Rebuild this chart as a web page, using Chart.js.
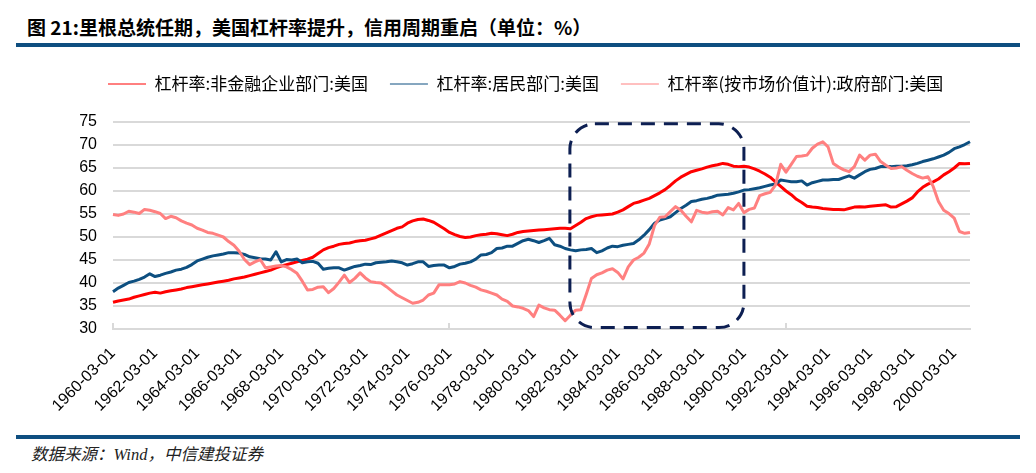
<!DOCTYPE html>
<html><head><meta charset="utf-8">
<script src="https://cdn.jsdelivr.net/npm/chart.js@4"></script>
<style>
html,body{margin:0;padding:0;background:#fff;}
body{width:1036px;height:473px;position:relative;overflow:hidden;font-family:"Noto Sans CJK SC",sans-serif;}
#title{position:absolute;left:27px;top:16px;font-size:19px;font-weight:700;line-height:21px;color:#000;white-space:nowrap;}
.bar{position:absolute;left:16px;width:1004px;background:#0e4e80;}
#bar1{top:43px;height:4px;}
#bar2{top:435px;height:4px;}
#foot{position:absolute;left:31px;top:445px;font-size:16.5px;font-style:italic;color:#222;line-height:19px;font-family:"Liberation Serif","Noto Sans CJK SC",serif;white-space:nowrap;}
#wrap{position:absolute;left:0;top:50px;width:1036px;height:385px;}
</style></head>
<body>
<div id="title">图 21:里根总统任期，美国杠杆率提升，信用周期重启（单位：%）</div>
<div class="bar" id="bar1"></div>
<div id="wrap"><canvas id="c" width="1036" height="385"></canvas></div>
<div class="bar" id="bar2"></div>
<div id="foot">数据来源：Wind，中信建投证券</div>
<script>
// ---- categories ----
const years = [];
for (let yv = 1960; yv <= 2000; yv++) years.push(yv);
const quarterMonths = ['03','06','09','12'];
const categories = [];
years.forEach(yr => quarterMonths.forEach(m => categories.push(yr + '-' + m + '-01')));

// ---- series (quarterly, 1960Q1 .. 2000Q4) ----
const seriesNames = ['杠杆率:非金融企业部门:美国','杠杆率:居民部门:美国','杠杆率(按市场价值计):政府部门:美国'];

const corporate = [
35.8,36.1,36.3,36.5, 36.9,37.2,37.5,37.8, 38.0,37.8,38.1,38.3, 38.5,38.7,39.0,39.2,
39.4,39.6,39.8,40.0, 40.2,40.4,40.6,40.9, 41.1,41.3,41.6,41.9, 42.2,42.5,42.8,43.3,
43.7,44.0,44.3,44.6, 44.9,45.2,45.6,46.4, 47.2,47.7,48.0,48.4, 48.6,48.7,49.0,49.2,
49.3,49.6,49.9,50.4, 50.9,51.4,51.9,52.2, 53.0,53.5,53.8,53.9, 53.6,53.2,52.5,51.8,
51.0,50.5,50.1,49.9, 50.0,50.3,50.5,50.6, 50.8,50.7,50.5,50.3, 50.6,51.0,51.2,51.3,
51.4,51.5,51.6,51.7, 51.8,51.9,51.9,51.8, 52.5,53.2,54.0,54.4, 54.7,54.8,54.9,55.0,
55.4,55.9,56.6,57.3, 57.6,58.0,58.4,59.0, 59.6,60.3,61.2,62.2, 63.0,63.6,64.2,64.5,
64.8,65.2,65.5,65.7, 66.0,65.8,65.4,65.3, 65.4,65.2,64.8,64.3, 63.7,63.0,62.0,61.0,
60.0,59.2,58.2,57.5, 56.7,56.5,56.4,56.2, 56.1,56.0,56.0,55.9, 56.2,56.5,56.6,56.5,
56.7,56.8,56.9,57.0, 56.5,56.6,57.2,57.8, 58.5,59.8,60.8,61.5, 62.0,62.6,63.5,64.2,
65.0,66.0,65.9,66.0];

const household = [
38.1,38.9,39.5,40.1, 40.4,40.8,41.3,42.0, 41.4,41.7,42.1,42.4, 42.8,43.0,43.4,44.0,
44.8,45.2,45.6,45.9, 46.1,46.3,46.6,46.6, 46.5,46.2,45.7,45.5, 45.3,45.2,45.0,46.8,
44.6,45.1,45.0,45.2, 44.4,44.6,44.7,44.3, 43.0,43.2,43.3,43.3, 42.8,43.2,43.6,43.8,
44.1,44.0,44.4,44.5, 44.6,44.8,44.6,44.4, 43.9,44.2,44.6,44.6, 43.6,43.8,43.9,43.9,
43.3,43.6,44.1,44.3, 44.6,45.2,46.1,46.2, 46.6,47.5,47.6,48.0, 48.0,48.6,49.2,49.5,
49.2,48.8,49.2,49.7, 48.3,48.0,47.5,47.2, 47.0,47.2,47.3,47.5, 46.6,47.0,47.6,48.0,
47.9,48.2,48.4,48.6, 49.4,50.4,51.6,53.0, 53.7,54.0,54.4,55.3, 56.2,56.9,57.7,57.9,
58.2,58.4,58.7,59.1, 59.2,59.3,59.5,59.8, 60.2,60.3,60.5,60.7, 61.0,61.3,61.5,62.4,
62.2,62.0,62.0,62.2, 61.3,61.8,62.1,62.4, 62.4,62.5,62.5,62.9, 63.3,62.8,63.5,64.2,
64.7,64.9,65.3,65.3, 65.3,65.4,65.4,65.5, 65.7,66.0,66.4,66.7, 67.0,67.4,67.8,68.4,
69.2,69.6,70.1,70.7];

const government = [
54.9,54.7,55.0,55.6, 55.4,55.1,56.0,55.8, 55.5,55.1,54.0,54.5, 54.2,53.5,53.0,52.6,
51.9,51.5,51.0,50.8, 50.4,50.0,49.0,48.2, 46.9,45.1,44.0,44.6, 45.1,43.3,43.5,43.7,
43.8,43.5,42.9,42.1, 40.4,38.5,38.6,39.1, 39.2,37.9,38.8,40.2, 41.7,40.1,41.0,42.2,
41.1,40.3,40.1,40.0, 39.2,38.3,37.4,36.8, 36.2,35.6,35.8,36.3, 37.4,37.8,39.6,39.6,
39.6,39.8,40.3,40.0, 39.5,39.1,38.5,38.2, 37.8,37.4,36.5,36.0, 35.0,34.8,34.5,34.0,
32.7,35.2,34.6,34.2, 34.1,33.0,31.8,33.0, 34.1,34.2,37.5,41.0, 41.8,42.2,42.8,43.1,
42.3,40.9,43.5,45.0, 45.6,46.5,48.5,52.5, 54.3,54.4,55.5,56.6, 55.8,54.5,53.3,55.8,
55.4,55.2,55.5,55.6, 54.8,56.4,55.9,57.3, 55.3,56.0,56.3,59.0, 59.4,59.7,61.3,65.8,
64.1,65.8,67.5,67.6, 67.8,69.3,70.2,70.7, 69.6,66.0,65.2,64.6, 64.2,65.3,67.8,66.7,
67.8,68.0,66.4,65.6, 64.9,65.0,65.3,64.5, 63.8,63.2,62.8,63.1, 61.0,57.7,55.8,55.1,
54.1,51.2,50.8,51.0];

// y-axis ticks
const yTicks = [30,35,40,45,50,55,60,65,70,75];
const labelEvery = 8;

// highlighted period (category index range, value range)
const HILITE = {from: 86.9, to: 120.0, top: 74.6, bottom: 30.3};

const LEGEND_X = 108, LEGEND_PAD = 22, TOP_PAD = 3.5, LEGEND_H = 68.5;

const legendPlace = {
  id: 'legendPlace',
  afterInit(chart) {
    const lg = chart.legend;
    const fit = lg.fit;
    lg.fit = function () { fit.call(this); this.height = LEGEND_H; };
  },
  afterLayout(chart) {
    const lg = chart.legend;
    const W = lg.lineWidths ? lg.lineWidths[0] : 0;
    lg.left = LEGEND_X - LEGEND_PAD;
    lg.right = lg.left + LEGEND_PAD + W;
  }
};

const boxPlugin = {
  id: 'boxHighlight',
  afterDatasetsDraw(chart) {
    const {ctx, scales: {x, y}} = chart;
    const x0 = x.getPixelForValue(HILITE.from), x1 = x.getPixelForValue(HILITE.to);
    const y0 = y.getPixelForValue(HILITE.top), y1 = y.getPixelForValue(HILITE.bottom);
    ctx.save();
    ctx.strokeStyle = '#0d1f52';
    ctx.lineWidth = 3;
    ctx.setLineDash([14, 9]);
    ctx.beginPath();
    ctx.roundRect(x0, y0, x1 - x0, y1 - y0, 25);
    ctx.stroke();
    ctx.restore();
  }
};

const colors = ['#ff0000', '#0d4f80', '#ff8080'];

new Chart(document.getElementById('c'), {
  type: 'line',
  data: {
    labels: categories,
    datasets: [
      {label: seriesNames[0], data: corporate, borderColor: colors[0], backgroundColor: colors[0], order: 2},
      {label: seriesNames[1], data: household, borderColor: colors[1], backgroundColor: colors[1], order: 1},
      {label: seriesNames[2], data: government, borderColor: colors[2], backgroundColor: colors[2], order: 0}
    ]
  },
  options: {
    responsive: false,
    animation: false,
    layout: {padding: {top: TOP_PAD, right: 66, left: 0, bottom: 0}},
    elements: {
      line: {borderWidth: 3, tension: 0, borderJoinStyle: 'round'},
      point: {radius: 0, hoverRadius: 0}
    },
    plugins: {
      legend: {
        position: 'top',
        labels: {
          usePointStyle: true, pointStyle: 'line', pointStyleWidth: 38,
          padding: LEGEND_PAD, color: '#000',
          font: {family: '"Noto Sans CJK SC"', size: 17},
          sort: (a, b) => a.datasetIndex - b.datasetIndex
        }
      },
      tooltip: {enabled: false}
    },
    scales: {
      x: {
        type: 'category', offset: false,
        grid: {drawOnChartArea: false, drawTicks: true, tickLength: -6, lineWidth: 2,
               color: c => (c.index % labelEvery === 0 ? '#d9d9d9' : 'rgba(0,0,0,0)')},
        border: {display: true, color: '#d9d9d9', width: 2},
        ticks: {
          autoSkip: false, maxRotation: 45, minRotation: 45, padding: 21, color: '#000',
          font: {family: '"Liberation Sans"', size: 16},
          callback: function (v, i) { return i % labelEvery === 0 ? this.getLabelForValue(v) : null; }
        },
        afterFit(s) { s.height = 106; }
      },
      y: {
        min: 30, max: 75,
        afterBuildTicks(s) { s.ticks = yTicks.map(v => ({value: v})); },
        grid: {color: '#d9d9d9', lineWidth: 2, drawTicks: false},
        border: {display: false},
        ticks: {padding: 16, color: '#000', font: {family: '"Liberation Sans"', size: 16}},
        afterFit(s) { s.width = 113; }
      }
    }
  },
  plugins: [legendPlace, boxPlugin]
});
</script>
</body></html>
